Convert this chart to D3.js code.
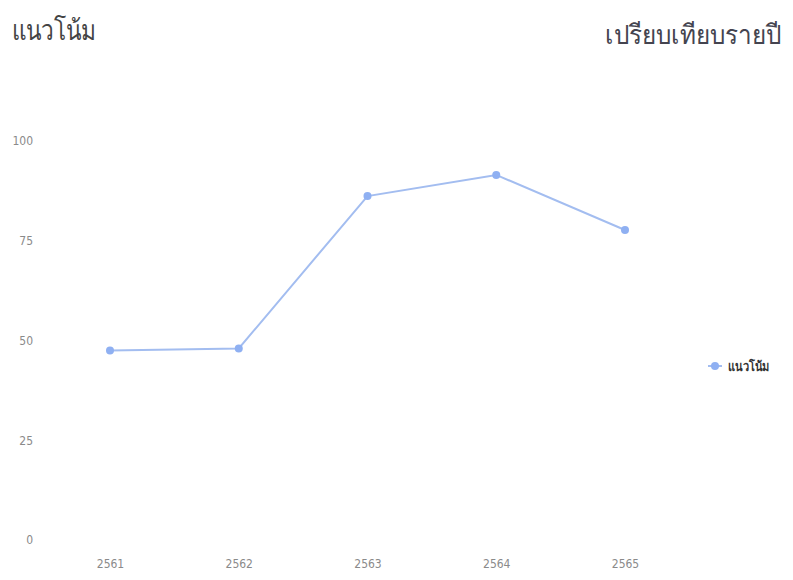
<!DOCTYPE html>
<html><head><meta charset="utf-8">
<script src="https://cdn.jsdelivr.net/npm/d3@7/dist/d3.min.js"></script>
<style>body{margin:0;background:#fff}svg{display:block}</style>
</head><body>
<svg id="c" width="793" height="580"></svg>
<script>
const years = ["2561","2562","2563","2564","2565"];
const values = [47.5, 48, 86.2, 91.5, 77.7];
const yTicks = [0, 25, 50, 75, 100];
const titleLeft = "แนวโน้ม";
const titleRight = "เปรียบเทียบรายปี";
const seriesName = "แนวโน้ม";

const svg = d3.select("#c");
const font = "'Noto Sans', 'Open Sans', sans-serif";

const x = d3.scalePoint().domain(years).range([110, 625]);
const y = d3.scaleLinear().domain([0, 100]).range([540, 141]);

svg.append("g").attr("transform", "translate(12,40) scale(0.81,1)")
  .append("text").attr("font-family", font)
  .attr("font-size", 28).attr("font-weight", 300).attr("fill", "#444").text(titleLeft);
svg.append("g").attr("transform", "translate(781,44) scale(0.9,1)")
  .append("text").attr("text-anchor", "end").attr("font-family", font)
  .attr("font-size", 27).attr("font-weight", 300).attr("fill", "#44444f").text(titleRight);

const yAxis = svg.append("g").attr("transform", "translate(33,0)")
  .call(d3.axisLeft(y).tickValues(yTicks).tickSize(0).tickPadding(0));
yAxis.select(".domain").remove();
yAxis.selectAll("text").attr("font-family", "'DejaVu Sans Condensed', 'Liberation Sans Narrow', sans-serif")
  .attr("font-size", 12).attr("font-weight", 300).attr("fill", "#8a8a8a");

const xAxis = svg.append("g").attr("transform", "translate(0,559)")
  .call(d3.axisBottom(x).tickSize(0).tickPadding(0));
xAxis.select(".domain").remove();
xAxis.selectAll("text").attr("font-family", "'DejaVu Sans Condensed', 'Liberation Sans Narrow', sans-serif")
  .attr("font-size", 12).attr("fill", "#8a8a8a");

const data = years.map((d, i) => ({k: d, v: values[i]}));
svg.append("path").datum(data)
  .attr("fill", "none").attr("stroke", "#a3bdf0").attr("stroke-width", 2)
  .attr("d", d3.line().x(d => x(d.k)).y(d => y(d.v)));
svg.selectAll("circle.pt").data(data).enter().append("circle").attr("class", "pt")
  .attr("cx", d => x(d.k)).attr("cy", d => y(d.v)).attr("r", 4).attr("fill", "#8fb0f2");

// legend
const lg = svg.append("g").attr("transform", "translate(715,366)");
lg.append("line").attr("x1", -7).attr("x2", 7).attr("stroke", "#a3bdf0").attr("stroke-width", 2);
lg.append("circle").attr("r", 4).attr("fill", "#8fb0f2");
lg.append("g").attr("transform", "translate(13,5) scale(0.85,1)")
  .append("text").attr("font-family", font).attr("font-size", 13)
  .attr("font-weight", 700).attr("fill", "#333").text(seriesName);
</script>
</body></html>
